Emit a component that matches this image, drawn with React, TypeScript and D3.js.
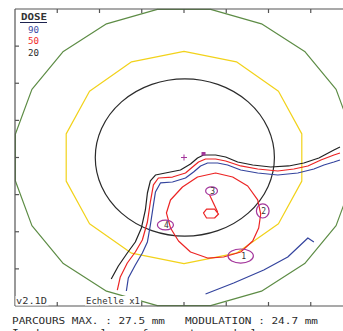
import React from 'react';
import * as d3 from 'd3';

// isodose lines, mm from the centre of the eye
const iso20: [number, number][] = [
  [-8.61, -16.36], [-7.77, -14.61], [-6.71, -12.86], [-5.76, -11.38], [-5.04, -9.49],
  [-4.57, -7.07], [-4.33, -4.78], [-3.98, -3.16], [-3.38, -2.36], [-2.2, -2.09],
  [-0.42, -1.68], [0.77, -0.88], [1.6, -0.07], [2.31, 0.34], [3.74, 0.34],
  [4.93, 0.07], [6.35, -0.61], [8.13, -1.01], [10.27, -1.28], [12.4, -1.14],
  [14.18, -0.74], [15.96, -0.07], [17.74, 1.01], [18.46, 1.41],
];
const iso50: [number, number][] = [
  [-7.89, -17.85], [-7.54, -16.09], [-6.71, -14.21], [-5.76, -12.73], [-4.93, -11.11],
  [-4.33, -8.69], [-3.98, -5.99], [-3.62, -3.7], [-3.03, -2.76], [-1.36, -2.63],
  [0.18, -2.09], [1.01, -1.28], [1.72, -0.61], [2.55, -0.2], [3.74, -0.2],
  [4.93, -0.47], [6.71, -1.14], [8.72, -1.55], [11.1, -1.82], [13.0, -1.55],
  [14.66, -1.14], [16.2, -0.34], [17.74, 0.34], [18.46, 0.61],
];
const iso90: [number, number][] = [
  [-6.82, -17.98], [-6.59, -16.23], [-5.76, -14.48], [-4.93, -12.86], [-4.33, -11.38],
  [-3.98, -9.09], [-3.62, -6.4], [-3.38, -4.65], [-2.79, -3.43], [-1.36, -3.3],
  [0.18, -2.76], [1.13, -1.95], [1.96, -1.14], [2.79, -0.74], [3.98, -0.74],
  [5.16, -1.01], [6.71, -1.68], [8.72, -2.09], [11.1, -2.36], [13.47, -2.09],
  [15.37, -1.55], [16.56, -1.01], [17.74, -0.61], [18.46, -0.34],
];
const iso90Low: [number, number][] = [
  [2.55, -18.38], [5.88, -16.9], [9.44, -15.15], [12.28, -13.4], [14.66, -10.84], [15.37, -11.38],
];
const tumour: [number, number][] = [
  [-2.08, -7.47], [-1.6, -5.72], [-0.18, -3.97], [1.6, -2.63], [3.74, -2.09], [5.76, -2.63],
  [7.54, -3.84], [8.72, -5.72], [9.08, -7.61], [8.84, -9.49], [8.13, -11.25], [6.71, -12.73],
  [4.69, -13.4], [2.79, -13.54], [0.77, -12.73], [-0.65, -11.25], [-1.6, -9.49],
];
const tumourTop: [number, number][] = [
  [2.31, -7.47], [2.67, -6.94], [3.62, -6.94], [4.09, -7.61], [3.62, -8.15], [2.67, -8.15],
];
const tumourLink: [number, number][] = [[3.98, -7.34], [3.03, -5.05]];

// clips
const clipNames = ['1', '2', '3', '4'];
const clipX = [6.71, 9.32, 3.26, -2.2];
const clipY = [-13.27, -7.2, -4.51, -9.09];
const clipRx = [1.5, 0.75, 0.7, 0.95];
const clipRy = [0.95, 0.95, 0.55, 0.65];

const eyeRadius = 20.2;
const eyeSides = 20;
const yellowRadius = 14.3;
const yellowSides = 14;
const limbusRadius = 10.6;

const axisTicks = [-15, -10, -5, 0, 5, 10, 15];
const doseLevels = ['90', '50', '20'];
const doseColors = ['#3b4ba6', '#f02a2a', '#2a2a2a'];

const W = 343;
const H = 331;
const x = d3.scaleLinear().domain([-20, 20]).range([15, 353]);
const y = d3.scaleLinear().domain([-20, 20]).range([306, 9]);

const line = d3.line<[number, number]>().x(d => x(d[0])).y(d => y(d[1]));
const closed = d3.line<[number, number]>().x(d => x(d[0])).y(d => y(d[1])).curve(d3.curveLinearClosed);

const polygon = (r: number, n: number, start: number): [number, number][] =>
  d3.range(n).map(i => {
    const a = ((start + (360 / n) * i) * Math.PI) / 180;
    return [r * Math.cos(a), r * Math.sin(a)];
  });

const mono = '"DejaVu Sans Mono", "Liberation Mono", monospace';

export default function App() {
  return (
    <svg width={W} height={H} style={{ position: 'absolute', left: 0, top: 0, background: '#fff' }}>
      <g fill="none" strokeWidth={1.2} strokeLinejoin="round">
        <path d={closed(polygon(eyeRadius, eyeSides, 9)) || ''} stroke="#5d8c45" />
        <path d={closed(polygon(yellowRadius, yellowSides, 90)) || ''} stroke="#f2d21a" />
        <ellipse cx={x(0.1)} cy={y(0)} rx={x(limbusRadius) - x(0)} ry={y(0) - y(limbusRadius)} stroke="#2b2b2b" />
        <path d={closed(tumour) || ''} stroke="#ec2424" />
        <path d={closed(tumourTop) || ''} stroke="#ec2424" />
        <path d={line(tumourLink) || ''} stroke="#ec2424" />
        <path d={line(iso90) || ''} stroke="#34449e" />
        <path d={line(iso90Low) || ''} stroke="#34449e" />
        <path d={line(iso50) || ''} stroke="#ec2424" />
        <path d={line(iso20) || ''} stroke="#222" />
        {clipNames.map((c, i) => (
          <ellipse key={c} cx={x(clipX[i])} cy={y(clipY[i])}
            rx={x(clipRx[i]) - x(0)} ry={y(0) - y(clipRy[i])} stroke="#a3359b" />
        ))}
      </g>
      {clipNames.map((c, i) => (
        <text key={c} x={x(clipX[i]) + (c === '1' ? 3 : 1)} y={y(clipY[i]) + 3} fontFamily={mono}
          fontSize={8} textAnchor="middle" fill="#333">{c}</text>
      ))}
      <rect x={x(2.31) - 2} y={y(0.47) - 2} width={4} height={3.5} fill="#a3359b" />
      <g stroke="#a3359b" strokeWidth={1}>
        <line x1={x(0) - 3} x2={x(0) + 3} y1={y(0)} y2={y(0)} />
        <line x1={x(0)} x2={x(0)} y1={y(0) - 3} y2={y(0) + 3} />
      </g>

      {/* frame */}
      <g stroke="#555" strokeWidth={1.2} fill="none">
        <line x1={15} x2={W} y1={9} y2={9} />
        <line x1={15} x2={15} y1={9} y2={306} />
        <line x1={15} x2={W} y1={306} y2={306} />
        {axisTicks.map(t => (
          <g key={t}>
            <line x1={x(t)} x2={x(t)} y1={9} y2={13} />
            <line x1={x(t)} x2={x(t)} y1={306} y2={302} />
            <line x1={15} x2={19} y1={y(t)} y2={y(t)} />
          </g>
        ))}
      </g>

      {/* legend */}
      <text x={21} y={19.5} fontFamily={mono} fontSize={8.5} fontWeight="bold" fill="#333"
        textLength={26} lengthAdjust="spacingAndGlyphs">DOSE</text>
      <line x1={20} x2={47} y1={22.5} y2={22.5} stroke="#1d2350" strokeWidth={1} />
      {doseLevels.map((d, i) => (
        <text key={d} x={28} y={33 + i * 11.3} fontFamily={mono} fontSize={8} fill={doseColors[i]}
          textLength={11} lengthAdjust="spacingAndGlyphs">{d}</text>
      ))}

      <rect x={15.5} y={296} width={33} height={9.5} fill="#fff" />
      <text x={16} y={304} fontFamily={mono} fontSize={8.5} fill="#333"
        textLength={31} lengthAdjust="spacingAndGlyphs">v2.1D</text>
      <rect x={85} y={296} width={56} height={9.5} fill="#fff" />
      <text x={86} y={304} fontFamily={mono} fontSize={8.5} fill="#333"
        textLength={54} lengthAdjust="spacingAndGlyphs">Echelle x1</text>

      <text x={12} y={323.5} fontFamily={mono} fontSize={9} fill="#2a2a2a" xmlSpace="preserve"
        textLength={306} lengthAdjust="spacingAndGlyphs">PARCOURS MAX. : 27.5 mm   MODULATION : 24.7 mm</text>
      <text x={12} y={335.5} fontFamily={mono} fontSize={9} fill="#2a2a2a"
        textLength={252} lengthAdjust="spacingAndGlyphs">Isodoses sur la surface externe de la</text>
    </svg>
  );
}
